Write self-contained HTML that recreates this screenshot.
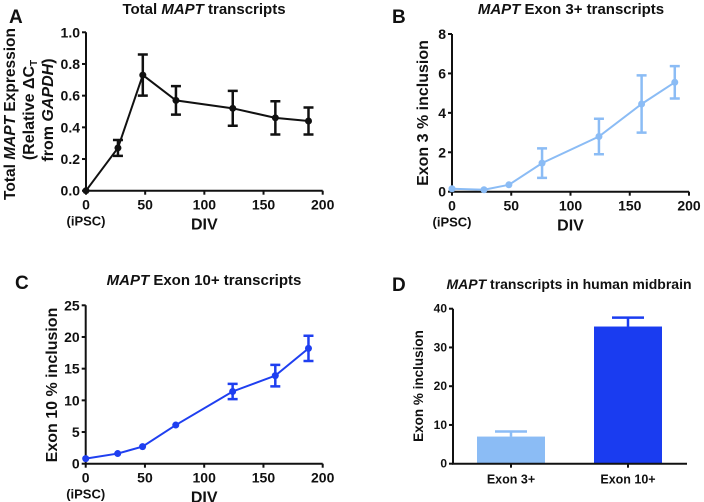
<!DOCTYPE html>
<html><head><meta charset="utf-8"><style>
html,body{margin:0;padding:0;background:#fff;}
svg{display:block;font-family:"Liberation Sans",Arial,sans-serif;}
svg text{font-weight:bold;}
</style></head><body>
<svg id="fig" width="704" height="502" viewBox="0 0 704 502"></svg>
<script>
const divX = [0, 27, 48, 76, 124, 160, 188];
const totalVals = [0, 0.27, 0.73, 0.57, 0.52, 0.46, 0.44];
const totalErr = [0, 0.05, 0.13, 0.09, 0.11, 0.105, 0.085];
const exon3Vals = [0.15, 0.1, 0.35, 1.45, 2.8, 4.45, 5.55];
const exon3Err = [0, 0, 0, 0.75, 0.9, 1.45, 0.82];
const exon10Vals = [0.8, 1.6, 2.7, 6.1, 11.4, 13.9, 18.2];
const exon10Err = [0, 0, 0, 0, 1.2, 1.7, 2.0];
const xTicks = [0, 50, 100, 150, 200];
const aTicks = [0, 0.2, 0.4, 0.6, 0.8, 1.0];
const bTicks = [0, 2, 4, 6, 8];
const cTicks = [0, 5, 10, 15, 20, 25];
const dCategories = ["Exon 3+", "Exon 10+"];
const dVals = [7.0, 35.4];
const dErr = [1.3, 2.3];
const dTicks = [0, 10, 20, 30, 40];

const NS = "http://www.w3.org/2000/svg";
const svg = document.getElementById("fig");
function mk(tag, attrs, parent, text){
  const e = document.createElementNS(NS, tag);
  for (const k in attrs) e.setAttribute(k, attrs[k]);
  if (text !== undefined) e.textContent = text;
  (parent || svg).appendChild(e);
  return e;
}
function txt(x,y,s,size,anchor,parent,rot){
  const t = mk("text",{x:x,y:y,"font-size":size,"text-anchor":anchor||"middle",fill:"#111","font-weight":"bold"},parent);
  if (rot) t.setAttribute("transform","rotate(-90 "+x+" "+y+")");
  t.innerHTML = s;
  return t;
}

function linePanel(name, x0,x1,y0,y1,ymax,ticks,fmt,vals,errs,color,sw){
  const g = mk("g",{});
  
  
  const sx = v => x0 + (x1-x0)*v/200;
  const sy = v => y0 - (y0-y1)*v/ymax;
  const ax = mk("path",{d:`M${x0} ${y1}V${y0}H${x1}`,stroke:"#111","stroke-width":2,fill:"none"},g);
  
  
  xTicks.forEach(t=>{
    mk("line",{x1:sx(t),x2:sx(t),y1:y0,y2:y0+4,stroke:"#111","stroke-width":2},g);
    const l = txt(sx(t),y0+19,String(t),14,"middle",g);
    
    
  });
  ticks.forEach(t=>{
    mk("line",{x1:x0-4,x2:x0,y1:sy(t),y2:sy(t),stroke:"#111","stroke-width":2},g);
    const l = txt(x0-6,sy(t)+5,fmt(t),14,"end",g);
    
    
  });
  const il = txt(x0,y0+35,"(iPSC)",13,"middle",g);
  
  
  const xl = txt((x0+x1)/2,y0+39,"DIV",16,"middle",g);
  
  
  const pts = divX.map((d,i)=>sx(d)+","+sy(vals[i])).join(" ");
  const pl = mk("polyline",{points:pts,stroke:color,"stroke-width":sw,fill:"none"},g);
  
  
  divX.forEach((d,i)=>{
    if (errs[i]>0){
      const x=sx(d), a=sy(vals[i]+errs[i]), b=sy(vals[i]-errs[i]);
      const eb = mk("path",{d:`M${x} ${a}V${b}M${x-5} ${a}H${x+5}M${x-5} ${b}H${x+5}`,stroke:color,"stroke-width":2.5,fill:"none"},g);
      
      
    }
    const c = mk("circle",{cx:sx(d),cy:sy(vals[i]),r:3.5,fill:color},g);
    
    
  });
  return g;
}

let t;
linePanel("panel-a-chart",86,322.7,190.7,32.3,1.0,aTicks,t=>t.toFixed(1),totalVals,totalErr,"#111",2);
t=txt(9,23,"A",19,"start");  
t=txt(204,14,"Total <tspan font-style='italic'>MAPT</tspan> transcripts",15);  
t=txt(15,114,"Total <tspan font-style='italic'>MAPT</tspan> Expression",15.5,"middle",null,true);  
t=txt(34,110,"(Relative ΔC<tspan font-size='10' dy='3'>T</tspan>",16,"middle",null,true);  
t=txt(53,110,"from <tspan font-style='italic'>GAPDH</tspan>)",16,"middle",null,true);  

linePanel("panel-b-chart",452,689,191.7,34,8,bTicks,t=>String(t),exon3Vals,exon3Err,"#8bbcf5",2);
t=txt(392,23,"B",19,"start");  
t=txt(571,14,"<tspan font-style='italic'>MAPT</tspan> Exon 3+ transcripts",15);  
t=txt(428,113,"Exon 3 % inclusion",16,"middle",null,true);  

linePanel("panel-c-chart",85.7,322.7,463.7,305.3,25,cTicks,t=>String(t),exon10Vals,exon10Err,"#1f3ff0",2);
t=txt(15,289,"C",19,"start");  
t=txt(204,285,"<tspan font-style='italic'>MAPT</tspan> Exon 10+ transcripts",15);  
t=txt(57,385,"Exon 10 % inclusion",16,"middle",null,true);  

(function(){
  const g = mk("g",{});
  
  
  const x0=453,x1=687,y0=463.7,y1=308.7,ymax=40;
  const sy=v=>y0-(y0-y1)*v/ymax;
  const colors=["#8bbcf5","#1a3cf0"];
  const bw=68, centers=[511,628];
  dCategories.forEach((c,i)=>{
    const cx=centers[i];
    const eb = mk("path",{d:`M${cx} ${sy(dVals[i])}V${sy(dVals[i]+dErr[i])}M${cx-16} ${sy(dVals[i]+dErr[i])}H${cx+16}`,stroke:colors[i],"stroke-width":2.5,fill:"none"},g);
    
    
    const r = mk("rect",{x:cx-bw/2,y:sy(dVals[i]),width:bw,height:y0-sy(dVals[i]),fill:colors[i]},g);
    
    
    mk("line",{x1:cx,x2:cx,y1:y0,y2:y0+4,stroke:"#111","stroke-width":2},g);
    const l=txt(cx,y0+20,c,12.5,"middle",g);
    
    
  });
  const ax = mk("path",{d:`M${x0} ${y1}V${y0}H${x1}`,stroke:"#111","stroke-width":2,fill:"none"},g);
  
  
  dTicks.forEach(tk=>{
    mk("line",{x1:x0-4,x2:x0,y1:sy(tk),y2:sy(tk),stroke:"#111","stroke-width":2},g);
    const l=txt(x0-6,sy(tk)+4,String(tk),12,"end",g);
    
    
  });
})();
t=txt(392,291,"D",19,"start");  
t=txt(569,289,"<tspan font-style='italic'>MAPT</tspan> transcripts in human midbrain",14);  
t=txt(423,386,"Exon % inclusion",13.5,"middle",null,true);  
</script>
</body></html>
